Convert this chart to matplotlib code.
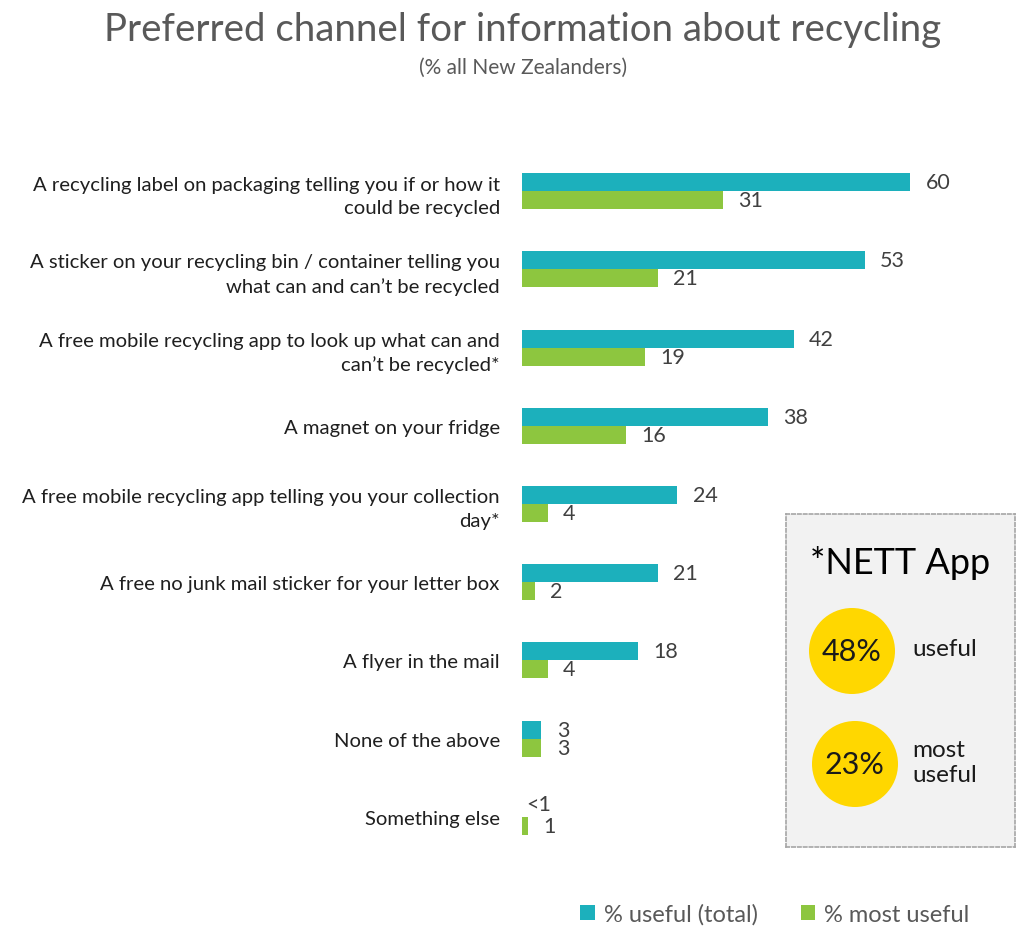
import numpy as np
import matplotlib
matplotlib.use('Agg')
import matplotlib.pyplot as plt
from matplotlib.patches import Circle

plt.rcParams['font.family'] = ['Lato', 'DejaVu Sans']

# data
categories = [
    'A recycling label on packaging telling you if or how it\ncould be recycled',
    'A sticker on your recycling bin / container telling you\nwhat can and can\u2019t be recycled',
    'A free mobile recycling app to look up what can and\ncan\u2019t be recycled*',
    'A magnet on your fridge',
    'A free mobile recycling app telling you your collection\nday*',
    'A free no junk mail sticker for your letter box',
    'A flyer in the mail',
    'None of the above',
    'Something else',
]
useful_total = [60, 53, 42, 38, 24, 21, 18, 3, 0.05]
useful_total_labels = ['60', '53', '42', '38', '24', '21', '18', '3', '<1']
most_useful = [31, 21, 19, 16, 4, 2, 4, 3, 1]
most_useful_labels = ['31', '21', '19', '16', '4', '2', '4', '3', '1']
nett_values = ['48%', '23%']
nett_labels = ['useful', 'most\nuseful']

teal = '#1cb0bc'
green = '#8dc63f'
grey_txt = '#404040'

W, H = 1017, 928
fig = plt.figure(figsize=(W / 100, H / 100), dpi=100)

# main bar axes
ax = fig.add_axes([522 / W, (H - 857) / H, (1000 - 522) / W, (857 - 153) / H])
y = np.arange(len(categories))
bh = 0.23
b1 = ax.barh(y - bh / 2, useful_total, height=bh, color=teal, label='% useful (total)')
b2 = ax.barh(y + bh / 2, most_useful, height=bh, color=green, label='% most useful')
ax.set_xlim(0, (1000 - 522) / 6.47)
ax.set_ylim(len(categories) - 0.5, -0.5)

for i in range(len(categories)):
    off = 3 if useful_total_labels[i].startswith('<') else 11
    dy = 3 if useful_total_labels[i].startswith('<') else 0
    ax.annotate(useful_total_labels[i], (useful_total[i], y[i] - bh / 2),
                xytext=(off, dy), textcoords='offset points', va='center',
                fontsize=15.5, color=grey_txt)
    ax.annotate(most_useful_labels[i], (most_useful[i], y[i] + bh / 2),
                xytext=(11, 0), textcoords='offset points', va='center',
                fontsize=15.5, color=grey_txt)

ax.set_yticks(y)
ax.set_yticklabels(categories, fontsize=14.6, color='#1f1f1f', linespacing=1.45)
ax.tick_params(axis='y', length=0, pad=16)
ax.set_xticks([])
for s in ax.spines.values():
    s.set_visible(False)

# titles
fig.text(0.514, 0.968, 'Preferred channel for information about recycling',
         ha='center', va='center', fontsize=27.6, color='#595959')
fig.text(0.514, 0.927, '(% all New Zealanders)', ha='center', va='center',
         fontsize=15, color='#595959')

# legend
fig.legend(handles=[b1, b2], loc='center', bbox_to_anchor=(0.762, 0.014),
           ncol=2, frameon=False, fontsize=17, handlelength=0.6,
           handleheight=0.6, handletextpad=0.4, columnspacing=1.8,
           labelcolor='#595959')

# NETT App callout box
bx = fig.add_axes([786 / W, (H - 848) / H, (1015 - 786) / W, (848 - 515) / H])
bx.set_xlim(0, 229)
bx.set_ylim(333, 0)
bx.set_facecolor('#f2f2f2')
bx.set_xticks([])
bx.set_yticks([])
for s in bx.spines.values():
    s.set_linestyle((0, (2, 1.5)))
    s.set_color('#a6a6a6')
    s.set_linewidth(1.2)
bx.text(114, 48, '*NETT App', ha='center', va='center', fontsize=26, color='black')
for k, (val, lab) in enumerate(zip(nett_values, nett_labels)):
    cy = 137 + k * 113
    cx = 66 + k * 3
    bx.add_patch(Circle((cx, cy), 43, color='#ffd700', lw=0))
    bx.text(cx, cy, val, ha='center', va='center', fontsize=22, color='#1a1a1a')
    bx.text(126, cy - 2, lab, ha='left', va='center', fontsize=17.5,
            color='#1a1a1a', linespacing=1.2)

fig.savefig('out.png', dpi=100, facecolor='white')
